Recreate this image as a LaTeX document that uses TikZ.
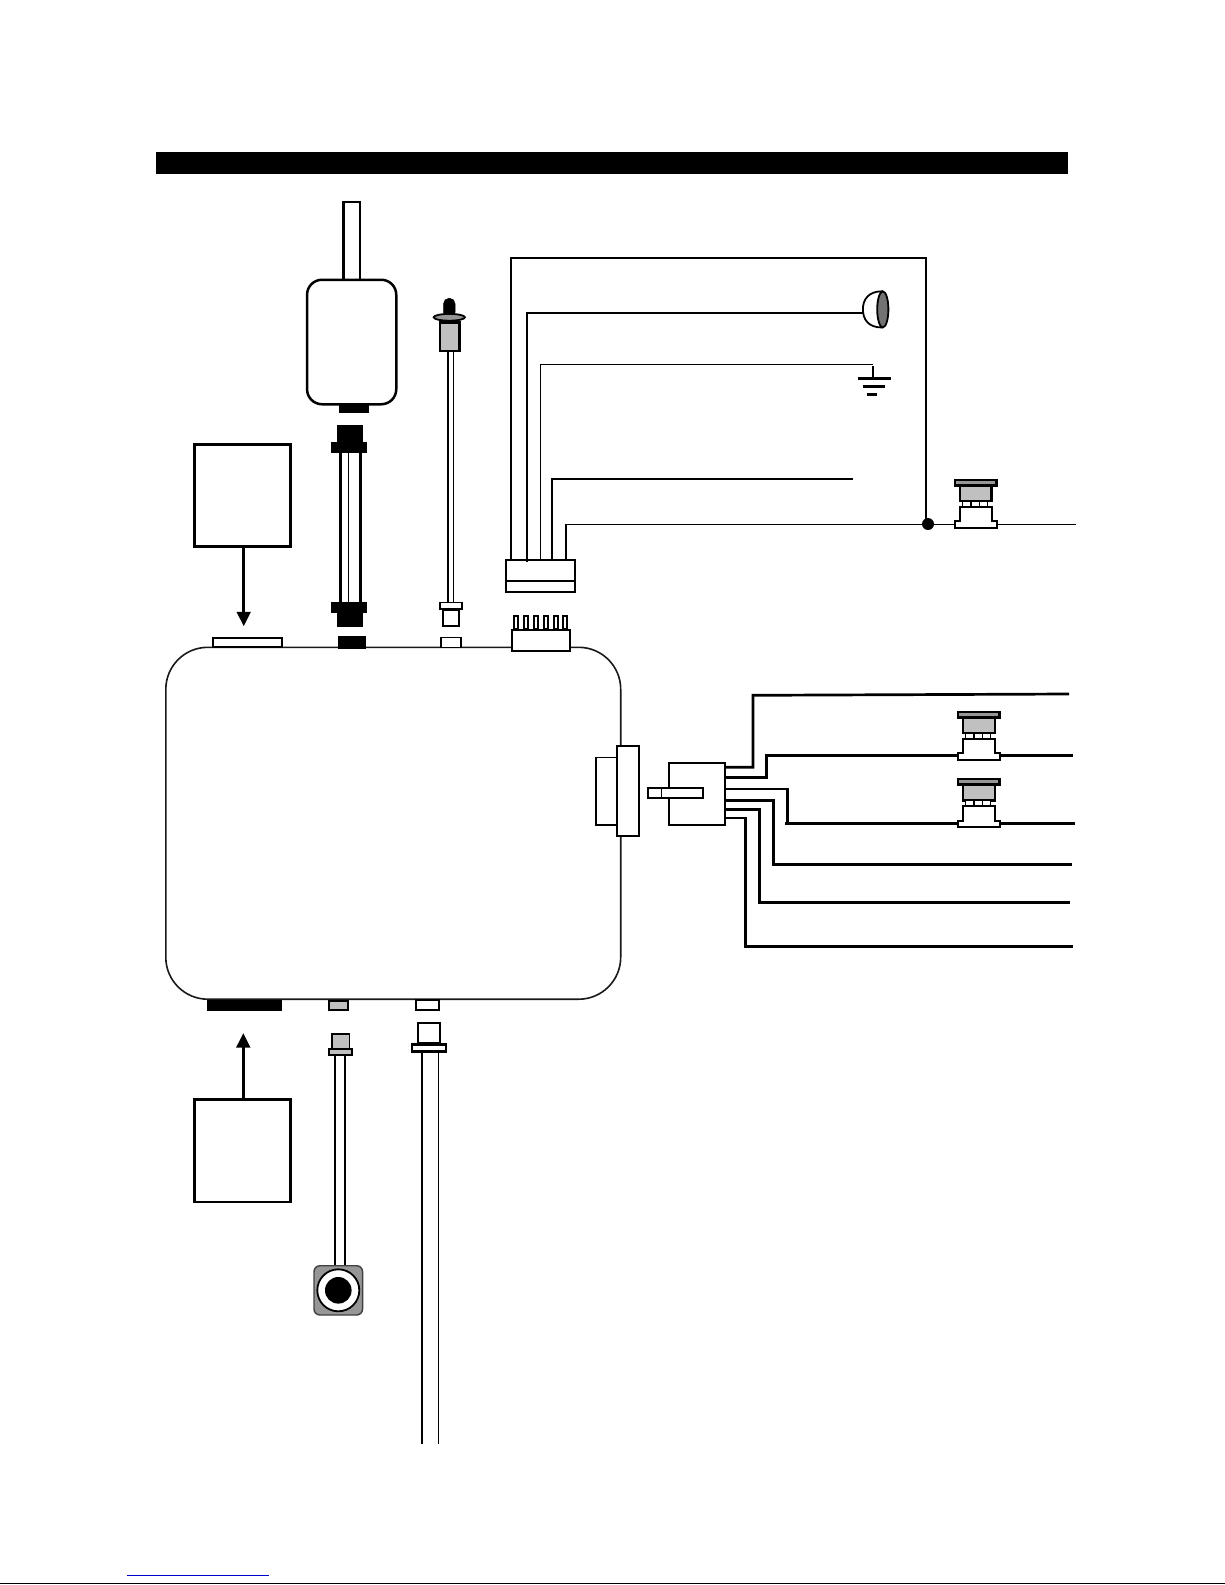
\documentclass[tikz,border=0pt]{standalone}
\usetikzlibrary{arrows.meta}
\definecolor{lightpart}{HTML}{C0C0C0}
\definecolor{darkpart}{HTML}{969696}
\definecolor{linkblue}{HTML}{0000CC}
\tikzset{
  part/.style={draw=black,fill=white,inner sep=0pt,outer sep=0pt,rectangle},
  solidpart/.style={fill=black},
  lightfill/.style={fill=lightpart},
  darkfill/.style={fill=darkpart},
  thinwire/.style={draw=black,line width=1.2pt},
  midwire/.style={draw=black,line width=2pt},
  heavywire/.style={draw=black,line width=2.7pt},
  feed/.style={draw=black,line width=3pt,-{Triangle[width=13.5pt,length=14.5pt]}},
  pics/pushswitch/.style={code={
    \draw[line width=2.4pt,fill=darkpart] (1.2,1.2) rectangle (42.8,6.6);
    \draw[line width=2.4pt,fill=lightpart] (6.2,7) rectangle (38,22.4);
    \draw[line width=1.5pt,fill=white] (8.8,22.6) rectangle (17.3,28);
    \draw[line width=1.5pt,fill=white] (17.3,22.6) rectangle (25.8,28);
    \draw[line width=1.5pt,fill=white] (25.8,22.6) rectangle (34,28);
    \draw[line width=2pt,fill=white] (6.2,42.6) -- (6.2,28.4) -- (38,28.4) -- (38,42.6)
      -- (43,42.6) -- (43,48.8) -- (1,48.8) -- (1,42.6) -- cycle;
  }}
}
% optional style, line width, name, x1, y1, x2, y2 (outer extents in pixels)
\newcommand\bx[7][]{%
  \pgfmathsetmacro\partW{#6-#4-#2}%
  \pgfmathsetmacro\partH{#7-#5-#2}%
  \pgfmathsetmacro\partX{(#4+#6)/2}%
  \pgfmathsetmacro\partY{(#5+#7)/2}%
  \node[part,line width=#2pt,minimum width=\partW pt,minimum height=\partH pt,#1] (#3) at (\partX,\partY) {};%
}
\begin{document}
\begin{tikzpicture}[x=1pt,y=-1pt]
\useasboundingbox (0,0) rectangle (1225,1585);
% header bar and footer rules
\fill[black] (156,152) rectangle (1068,174);
\draw[linkblue,line width=1.2pt] (127,1575.3) -- (268.7,1575.3);
\draw[black,line width=1.2pt] (0,1583.8) -- (1225,1583.8);

% main unit
\bx[rounded corners=42pt,draw=black!90]{1.6}{unit}{165}{646.5}{621.5}{1000}

% unit connectors, top
\bx{2.2}{cnA}{211.7}{636.5}{282.7}{648.3}
\bx[solidpart]{0.5}{cnB}{338}{636}{365}{648.7}
\bx{1.7}{cnC}{440.3}{636.5}{461.7}{648.3}
\bx{2.2}{cnD}{510.7}{629}{571.3}{651.7}
\foreach \n/\px in {1/513.4,2/523.2,3/533,4/542.8,5/552.6,6/562.4}{
  \bx{2}{pin\n}{\px}{614.7}{\px+6}{629.5}
}
% unit connectors, bottom
\bx[solidpart]{0.5}{cnE}{207}{1000}{281.7}{1010.7}
\bx[lightfill]{2}{cnF}{327.7}{999.5}{349.3}{1010.5}
\bx{2}{cnG}{414.7}{998.5}{440.3}{1010.5}
% unit connector, right
\bx{1.7}{portB}{595.3}{756.5}{617.5}{825.5}
\bx{1.9}{portA}{616.3}{745.3}{639.7}{836.7}

% upper left box and arrow
\bx{2.5}{boxTop}{193.3}{443.2}{291.5}{547.5}
\coordinate (tipTop) at (243.7,626.3);
\draw[feed] (boxTop.south -| tipTop) -- (tipTop);
% lower left box and arrow
\bx{2.5}{boxBot}{193.3}{1098.2}{291.5}{1203.2}
\coordinate (tipBot) at (243.3,1033);
\draw[feed] (boxBot.north -| tipBot) -- (tipBot);

% antenna module
\bx{2.3}{aerial}{342.2}{200.5}{360.8}{281}
\bx[rounded corners=15pt]{2.5}{module}{305.8}{278.5}{397.5}{405.5}
\bx[solidpart]{0.5}{modPlug}{339}{405.3}{368}{412.7}
% module lead
\bx[solidpart]{0.5}{leadTopA}{337}{425}{362}{443}
\bx[solidpart]{0.5}{leadTopB}{331}{442}{366}{452}
\bx[solidpart]{0.5}{leadBotB}{331}{602}{366}{612}
\bx[solidpart]{0.5}{leadBotA}{337}{612}{362}{626.7}
\draw[heavywire,line width=2.4pt] ([xshift=-8pt]leadTopB.south) -- ([xshift=-8pt]leadBotB.north);
\draw[thinwire] ([xshift=0.2pt]leadTopB.south) -- ([xshift=0.2pt]leadBotB.north);
\draw[heavywire,line width=2.4pt] ([xshift=11.8pt]leadTopB.south) -- ([xshift=11.8pt]leadBotB.north);

% lamp probe
\bx[solidpart,rounded corners=5.5pt]{0.5}{lampTip}{443.3}{298}{455.3}{318}
\draw[black,line width=1.8pt,fill=darkpart] (449.3,317.3) ellipse [x radius=15.6pt,y radius=3.4pt];
\bx[lightfill]{2.2}{lampBody}{438.5}{321.3}{460.5}{352}
\bx{1.7}{lampFlange}{439.3}{601.5}{462.7}{609.7}
\bx{1.7}{lampPlug}{442.3}{609.3}{459.7}{626.9}
\draw[black,line width=1.6pt] (447.7,351.8) -- (447.7,603);
\draw[black,line width=1.6pt] (453.3,351.8) -- (453.3,603);

% harness
\bx{2}{harness}{505}{558.5}{575.5}{592.5}
\draw[black,line width=2pt] (harness.west |- 0,580.7) -- (harness.east |- 0,580.7);
\coordinate (joint) at (928,524);
\coordinate (harnessA) at (511,558.7);
\coordinate (harnessB) at (527,561.7);
\coordinate (harnessC) at (540.3,558.7);
\coordinate (harnessD) at (552,558.7);
\coordinate (harnessE) at (566,558.7);
\coordinate (groundTop) at (872.7,364.3);
\coordinate (micIn) at (862.7,312.7);
\coordinate (freeEnd) at (853,479);
\coordinate (lineEnd) at (1076,524.3);
\draw[midwire] (harnessA) |- (926.3,257.7) -- (926.3,524);
\draw[midwire] (harnessB) |- (micIn);
\draw[thinwire] (harnessC) |- (groundTop);
\draw[midwire] (harnessD) |- (freeEnd);
\draw[midwire] (harnessE) -- (566,524.3);
\draw[thinwire] (565.6,524.3) -- (lineEnd);
\fill[black] (joint) circle [radius=6pt];
\pic at (953.5,478.7) {pushswitch};

% ground symbol
\draw[midwire] (873,366) -- (873,378.3);
\fill[black] (858,376.7) rectangle (891,380);
\fill[black] (863,384.7) rectangle (885,388);
\fill[black] (867,392.7) rectangle (877,396);

% microphone
\draw[black,line width=1.8pt,fill=white] (882,291.3) .. controls (868,291.3) and (862.9,300) .. (862.9,309.3)
  .. controls (862.9,319) and (868,327.5) .. (882,327.5) -- cycle;
\draw[black,line width=1.8pt,fill=black!55] (882.8,309.4) ellipse [x radius=5.6pt,y radius=18pt];

% multi-pin plug
\bx{2.1}{plug}{667.5}{761.5}{726.1}{825.7}
\bx{2}{plugTab}{646.5}{786.5}{704.1}{798.5}
\draw[black,line width=1.5pt] (661.7,786.7) -- (661.7,798.3);
\coordinate (o1) at (725.9,767.3);
\coordinate (o2) at (725.9,777.3);
\coordinate (o3) at (725.9,789);
\coordinate (o4) at (725.9,800.3);
\coordinate (o5) at (725.9,809.3);
\coordinate (o6) at (725.9,818);
\draw[heavywire] (o1) -- (753,767.3) -- (753,695.3) -- (1069,694);
\draw[heavywire] (o2) -- (766.7,777.3) -- (766.7,755.3) -- (1072.7,755.3);
\draw[heavywire] (o3) -- (787.7,789) -- (787.7,823.3);
\draw[heavywire] (785,823.3) -- (1075,823.3);
\draw[heavywire] (o4) -- (773.3,800.3) -- (773.3,864.3) -- (1072,864.3);
\draw[heavywire] (o5) -- (759.7,809.3) -- (759.7,902.3) -- (1070,902.3);
\draw[heavywire] (o6) -- (745.3,818) -- (745.3,946.7) -- (1072.7,946.7);
\pic at (956.7,710.7) {pushswitch};
\pic at (956.7,778) {pushswitch};

% camera lead
\bx[lightfill]{1.2}{camPlug}{331.3}{1033.3}{349.7}{1049}
\bx[lightfill]{1.9}{camFlange}{327.7}{1048.3}{352.7}{1055.9}
\bx[darkfill,rounded corners=6pt,draw=black!75]{1.4}{camBody}{313.3}{1265}{363.3}{1315.7}
\draw[heavywire,line width=2.4pt] (335,1055.7) -- (335,1265);
\draw[heavywire,line width=2.4pt] (345,1055.7) -- (345,1265);
\draw[black,line width=1.8pt,fill=white] (338.3,1290.3) circle [radius=21pt];
\fill[black] (338.3,1290.3) circle [radius=13.3pt];

% long lead
\bx{2.4}{longPlug}{416.7}{1021.5}{441.3}{1044}
\bx{2.4}{longFlange}{410.7}{1043.1}{447.3}{1052.5}
\draw[heavywire] (422,1052.3) -- (422,1444);
\draw[thinwire] (438.3,1052.3) -- (438.3,1444);
\end{tikzpicture}
\end{document}
